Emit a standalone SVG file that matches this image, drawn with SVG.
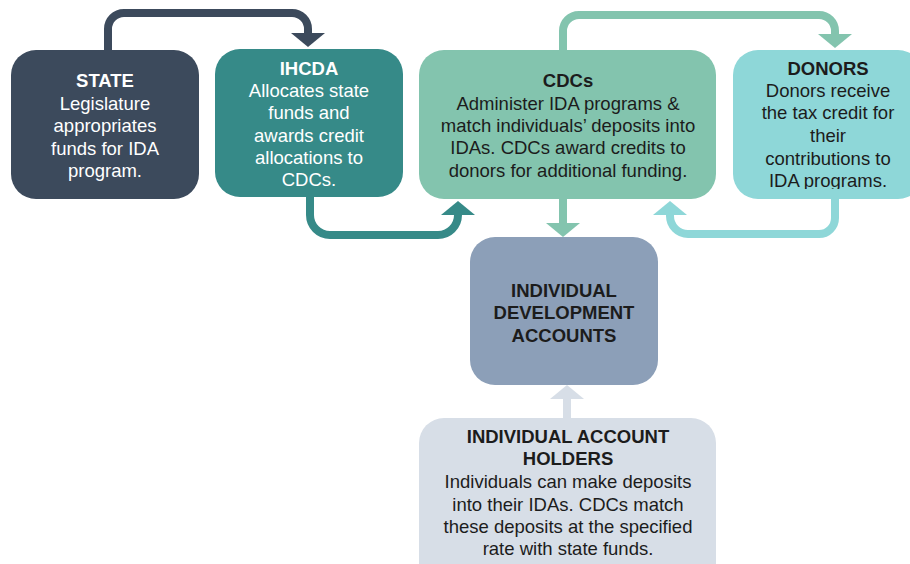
<svg xmlns="http://www.w3.org/2000/svg" width="910" height="564" viewBox="0 0 910 564">
  <style>
    text { font-family: "Liberation Sans", Arial, sans-serif; font-size: 18.5px; text-anchor: middle; }
    .t { font-weight: bold; }
    .light { fill: #ffffff; }
    .dark { fill: #1c1c1c; }
    .link { fill: none; stroke-width: 8; }
  </style>
  <defs>
    <marker id="headState" markerUnits="userSpaceOnUse" viewBox="0 0 14 34" markerWidth="14" markerHeight="34" refX="0" refY="17" orient="auto">
      <path d="M0,0 L14,17 L0,34 Z" fill="#3c4a5c"/>
    </marker>
    <marker id="headIhcda" markerUnits="userSpaceOnUse" viewBox="0 0 14 34" markerWidth="14" markerHeight="34" refX="0" refY="17" orient="auto">
      <path d="M0,0 L14,17 L0,34 Z" fill="#368a88"/>
    </marker>
    <marker id="headCdc" markerUnits="userSpaceOnUse" viewBox="0 0 14 34" markerWidth="14" markerHeight="34" refX="0" refY="17" orient="auto">
      <path d="M0,0 L14,17 L0,34 Z" fill="#83c4ae"/>
    </marker>
    <marker id="headDonor" markerUnits="userSpaceOnUse" viewBox="0 0 14 34" markerWidth="14" markerHeight="34" refX="0" refY="17" orient="auto">
      <path d="M0,0 L14,17 L0,34 Z" fill="#8ed7d8"/>
    </marker>
    <marker id="headHolder" markerUnits="userSpaceOnUse" viewBox="0 0 14 34" markerWidth="14" markerHeight="34" refX="0" refY="17" orient="auto">
      <path d="M0,0 L14,17 L0,34 Z" fill="#d7dee7"/>
    </marker>
    <clipPath id="donorClip">
      <rect x="733" y="50" width="200" height="139"/>
    </clipPath>
  </defs>

  <rect width="910" height="564" fill="#ffffff"/>

  <g id="connectors">
    <path class="link" stroke="#3c4a5c" marker-end="url(#headState)" d="M108,50 V29 A16,16 0 0 1 124,13 H292 A16,16 0 0 1 308,29 V33"/>
    <path class="link" stroke="#368a88" marker-end="url(#headIhcda)" d="M310,197 V215 A20,20 0 0 0 330,235 H438 A20,20 0 0 0 458,215"/>
    <path class="link" stroke="#83c4ae" marker-end="url(#headCdc)" d="M563,199 V223"/>
    <path class="link" stroke="#83c4ae" marker-end="url(#headCdc)" d="M563,50 V31 A16,16 0 0 1 579,15 H819 A16,16 0 0 1 835,31 V34"/>
    <path class="link" stroke="#8ed7d8" marker-end="url(#headDonor)" d="M835,199 V218 A16,16 0 0 1 819,234 H688 A18,18 0 0 1 670,216 V215"/>
    <path class="link" stroke="#d7dee7" marker-end="url(#headHolder)" d="M567,418 V399"/>
  </g>

  <g id="state">
    <rect x="11" y="50" width="188" height="149" rx="25" fill="#3c4a5c"/>
    <text class="light t" x="105" y="87">STATE</text>
    <text class="light" x="105" y="110">Legislature</text>
    <text class="light" x="105" y="132">appropriates</text>
    <text class="light" x="105" y="155">funds for IDA</text>
    <text class="light" x="105" y="177">program.</text>
  </g>

  <g id="ihcda">
    <rect x="215" y="49" width="188" height="148" rx="25" fill="#368a88"/>
    <text class="light t" x="309" y="75">IHCDA</text>
    <text class="light" x="309" y="97">Allocates state</text>
    <text class="light" x="309" y="119">funds and</text>
    <text class="light" x="309" y="142">awards credit</text>
    <text class="light" x="309" y="164">allocations to</text>
    <text class="light" x="309" y="186">CDCs.</text>
  </g>

  <g id="cdcs">
    <rect x="419" y="50" width="297" height="149" rx="25" fill="#83c4ae"/>
    <text class="dark t" x="568" y="87">CDCs</text>
    <text class="dark" x="568" y="110">Administer IDA programs &amp;</text>
    <text class="dark" x="568" y="132">match individuals’ deposits into</text>
    <text class="dark" x="568" y="154">IDAs. CDCs award credits to</text>
    <text class="dark" x="568" y="177">donors for additional funding.</text>
  </g>

  <g id="donors">
    <rect x="733" y="50" width="190" height="149" rx="25" fill="#8ed7d8"/>
    <g clip-path="url(#donorClip)">
      <text class="dark t" x="828" y="75">DONORS</text>
      <text class="dark" x="828" y="97">Donors receive</text>
      <text class="dark" x="828" y="119">the tax credit for</text>
      <text class="dark" x="828" y="142">their</text>
      <text class="dark" x="828" y="165">contributions to</text>
      <text class="dark" x="828" y="187">IDA programs.</text>
    </g>
  </g>

  <g id="accounts">
    <rect x="470" y="237" width="188" height="148" rx="25" fill="#8c9fb8"/>
    <text class="dark t" x="564" y="297">INDIVIDUAL</text>
    <text class="dark t" x="564" y="319">DEVELOPMENT</text>
    <text class="dark t" x="564" y="342">ACCOUNTS</text>
  </g>

  <g id="holders">
    <rect x="419" y="418" width="297" height="170" rx="25" fill="#d7dee7"/>
    <text class="dark t" x="568" y="443">INDIVIDUAL ACCOUNT</text>
    <text class="dark t" x="568" y="465">HOLDERS</text>
    <text class="dark" x="568" y="488">Individuals can make deposits</text>
    <text class="dark" x="568" y="511">into their IDAs. CDCs match</text>
    <text class="dark" x="568" y="533">these deposits at the specified</text>
    <text class="dark" x="568" y="555">rate with state funds.</text>
  </g>
</svg>
